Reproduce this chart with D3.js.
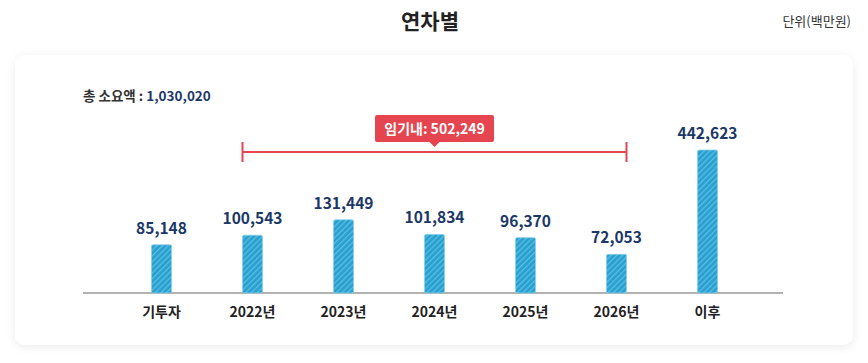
<!DOCTYPE html>
<html>
<head>
<meta charset="utf-8">
<script src="https://cdn.jsdelivr.net/npm/d3@7"></script>
<style>
  html, body { margin: 0; padding: 0; background: #fff; }
  body { font-family: "Noto Sans CJK KR", "Noto Sans", sans-serif; }
</style>
</head>
<body>
<div id="chart"></div>
<script>
// Data
var categories = ["기투자", "2022년", "2023년", "2024년", "2025년", "2026년", "이후"];
var values = [85148, 100543, 131449, 101834, 96370, 72053, 442623];
var totalLabel = "1,030,020";
var termLabel = "임기내: 502,249";
var termRange = ["2022년", "2026년"];

// Dimensions
var W = 868, H = 363;
var baseY = 293;

var svg = d3.select("#chart")
    .append("svg")
        .attr("width", W)
        .attr("height", H);

var defs = svg.append("defs");

// card shadow
var f = defs.append("filter").attr("id", "shadow")
    .attr("x", "-5%").attr("y", "-10%").attr("width", "110%").attr("height", "125%");
f.append("feDropShadow")
    .attr("dx", 0).attr("dy", 2).attr("stdDeviation", 5)
    .attr("flood-color", "#000").attr("flood-opacity", 0.08);

// hatch pattern for bars
var pat = defs.append("pattern").attr("id", "hatch")
    .attr("patternUnits", "userSpaceOnUse")
    .attr("width", 4).attr("height", 4)
    .attr("patternTransform", "rotate(45)");
pat.append("rect").attr("width", 4).attr("height", 4).attr("fill", "#27a0cf");
pat.append("rect").attr("width", 1.3).attr("height", 4).attr("fill", "#5cbde2");

// Title
svg.append("text")
    .attr("x", 430).attr("y", 29)
    .attr("text-anchor", "middle")
    .style("font-size", "21px").style("font-weight", 700).style("fill", "#222")
    .text("연차별");

svg.append("text")
    .attr("x", 851).attr("y", 26)
    .attr("text-anchor", "end")
    .style("font-size", "13px").style("fill", "#333")
    .text("단위(백만원)");

// Card
svg.append("rect")
    .attr("x", 15).attr("y", 55)
    .attr("width", 838).attr("height", 290)
    .attr("rx", 10)
    .attr("fill", "#fff")
    .attr("filter", "url(#shadow)");

// Total
var tot = svg.append("text")
    .attr("x", 83).attr("y", 101)
    .style("font-size", "13.5px").style("font-weight", 700);
tot.append("tspan").style("fill", "#333").text("총 소요액 : ");
tot.append("tspan").style("fill", "#1b3866").text(totalLabel);

// Scales
var x = d3.scalePoint()
    .domain(categories)
    .range([161.5, 707.5]);
var barW = 20;

var y = d3.scaleLog()
    .domain([36800, 442623])
    .range([baseY, baseY - 143]);

// Axis line
svg.append("line")
    .attr("x1", 83).attr("x2", 783)
    .attr("y1", baseY).attr("y2", baseY)
    .attr("stroke", "#666").attr("stroke-width", 1.2);

// Bars
var bars = svg.append("g").selectAll("g")
    .data(values)
    .enter().append("g");

bars.append("rect")
    .attr("x", function(d, i) { return x(categories[i]) - barW / 2; })
    .attr("y", function(d) { return y(d); })
    .attr("width", barW)
    .attr("height", function(d) { return baseY - y(d); })
    .attr("rx", 1.5)
    .attr("fill", "url(#hatch)")
    .attr("stroke", "#86cfea")
    .attr("stroke-width", 0.8);

bars.append("text")
    .attr("x", function(d, i) { return x(categories[i]); })
    .attr("y", function(d) { return y(d) - 11; })
    .attr("text-anchor", "middle")
    .style("font-size", "15.5px").style("font-weight", 700).style("fill", "#1b3866")
    .text(function(d) { return d3.format(",")(d); });

// X labels
svg.append("g").selectAll("text")
    .data(categories)
    .enter().append("text")
    .attr("x", function(d) { return x(d); })
    .attr("y", 317)
    .attr("text-anchor", "middle")
    .style("font-size", "14px").style("font-weight", 700).style("fill", "#222")
    .text(function(d) { return d; });

// Term bracket
var red = "#e5454f";
var bx1 = x(termRange[0]) - barW / 2,
    bx2 = x(termRange[1]) + barW / 2,
    by = 152,
    bmid = (bx1 + bx2) / 2;
var br = svg.append("g");
br.append("line").attr("x1", bx1).attr("x2", bx2).attr("y1", by).attr("y2", by)
    .attr("stroke", red).attr("stroke-width", 2);
[bx1, bx2].forEach(function(px) {
    br.append("line").attr("x1", px).attr("x2", px).attr("y1", by - 10).attr("y2", by + 10)
        .attr("stroke", red).attr("stroke-width", 2);
});

var lw = 119, lh = 27;
br.append("rect")
    .attr("x", bmid - lw / 2).attr("y", 115)
    .attr("width", lw).attr("height", lh)
    .attr("rx", 2)
    .attr("fill", red);
br.append("path")
    .attr("d", "M" + (bmid - 5) + "," + (115 + lh) + "L" + (bmid + 5) + "," + (115 + lh) + "L" + bmid + "," + (115 + lh + 5) + "Z")
    .attr("fill", red);
br.append("text")
    .attr("x", bmid).attr("y", 134)
    .attr("text-anchor", "middle")
    .style("font-size", "14px").style("font-weight", 700).style("fill", "#fff")
    .text(termLabel);
</script>
</body>
</html>
